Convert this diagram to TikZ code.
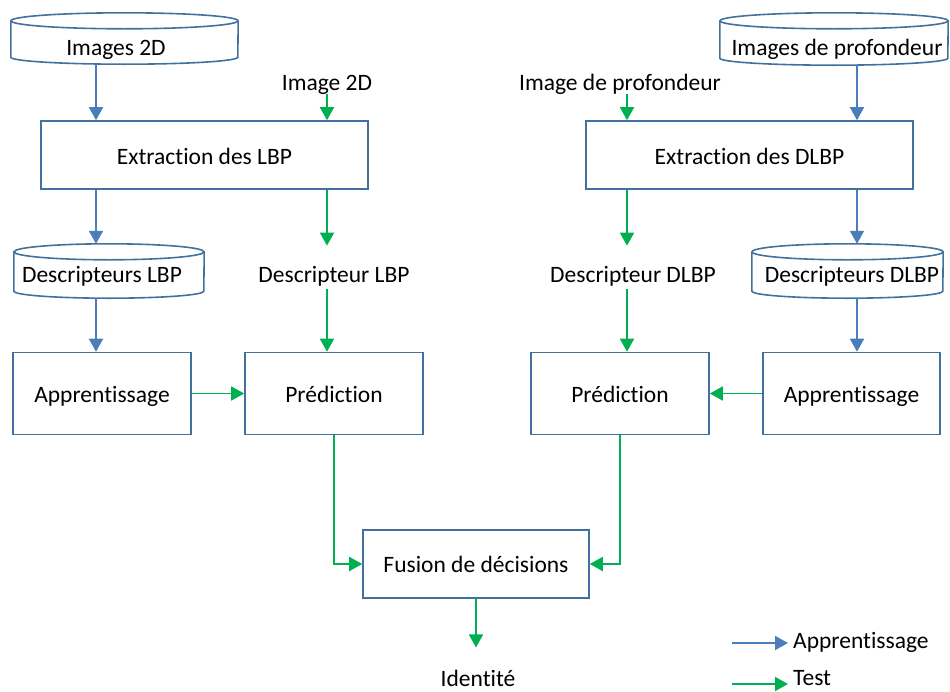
\documentclass[tikz,border=0pt]{standalone}
\usepackage{fontspec}
\setmainfont{Carlito}[Ligatures={NoCommon,NoContextual},RawFeature={-liga;-clig;-calt}]
\usetikzlibrary{arrows.meta}
\definecolor{boxc}{HTML}{41719C}
\definecolor{bluec}{HTML}{4A7EBB}
\definecolor{greenc}{HTML}{00B050}
\newcommand{\nti}{t\kern0pt i}
\newcommand{\dbshape}[1]{%
  \draw[boxline] ([yshift=-8pt]#1.north west) -- ([yshift=7pt]#1.south west)
    arc[start angle=180,end angle=360,x radius={0.5*(\pgfkeysvalueof{/pgf/minimum width})},y radius=7pt]
    -- ([yshift=-8pt]#1.north east);
  \draw[boxline] ([yshift=-8pt]#1.north) ellipse[x radius={0.5*(\pgfkeysvalueof{/pgf/minimum width})},y radius=8pt];
}
\begin{document}
\begin{tikzpicture}[x=1pt,y=-1pt,
  every node/.style={font=\fontsize{23.5}{28}\selectfont},
  boxline/.style={draw=boxc,line width=1.6pt},
  procbox/.style={draw=boxc,line width=1.6pt,rectangle,inner sep=0pt},
  dbnode/.style={rectangle,inner sep=0pt},
  txt/.style={inner sep=0pt,anchor=base},
  barrow/.style={draw=bluec,line width=1.8pt,-{Triangle[length=13pt,width=14pt]}},
  garrow/.style={draw=greenc,line width=1.8pt,-{Triangle[length=13pt,width=14pt]}}]
\useasboundingbox (0,0) rectangle (950,691);

% column coordinates
\coordinate (cA) at (96,0);
\coordinate (cB) at (327,0);
\coordinate (cC) at (627,0);
\coordinate (cD) at (857,0);

% left side
\node[dbnode,minimum width=227pt,minimum height=51pt] (db1) at (124.5,38.5) {};
\begin{scope}[/pgf/minimum width=227pt]\dbshape{db1}\end{scope}
\node[txt] (db1t) at (116,55) {Images 2D};

\node[txt] (img2d) at (327,90) {Image 2D};

\node[procbox,minimum width=327pt,minimum height=68pt] (ex1) at (204.5,155) {};
\node[txt] (ex1t) at (204.5,164) {Extrac\nti on des LBP};

\node[dbnode,minimum width=190pt,minimum height=54pt] (db2) at (109,271) {};
\begin{scope}[/pgf/minimum width=190pt]\dbshape{db2}\end{scope}
\node[txt] (db2t) at (102,282) {Descripteurs LBP};

\node[txt] (desc1) at (334,282) {Descripteur LBP};

\node[procbox,minimum width=178pt,minimum height=82pt] (ap1) at (102,393.5) {};
\node[txt] (ap1t) at (102,402) {Appren\nti ssage};
\node[procbox,minimum width=178pt,minimum height=82pt] (pr1) at (334,393.5) {};
\node[txt] (pr1t) at (334,402) {Prédic\nti on};

% right side
\node[dbnode,minimum width=228pt,minimum height=52pt] (db3) at (834,39) {};
\begin{scope}[/pgf/minimum width=228pt]\dbshape{db3}\end{scope}
\node[txt] (db3t) at (837,55) {Images de profondeur};

\node[txt] (imgp) at (620,90) {Image de profondeur};

\node[procbox,minimum width=327pt,minimum height=68pt] (ex2) at (749.5,155) {};
\node[txt] (ex2t) at (749.5,164) {Extrac\nti on des DLBP};

\node[dbnode,minimum width=191pt,minimum height=54pt] (db4) at (847.5,271) {};
\begin{scope}[/pgf/minimum width=191pt]\dbshape{db4}\end{scope}
\node[txt] (db4t) at (852,282) {Descripteurs DLBP};

\node[txt] (desc2) at (633,282) {Descripteur DLBP};

\node[procbox,minimum width=178pt,minimum height=82pt] (pr2) at (620,393.5) {};
\node[txt] (pr2t) at (620,402) {Prédic\nti on};
\node[procbox,minimum width=177pt,minimum height=82pt] (ap2) at (851.5,393.5) {};
\node[txt] (ap2t) at (851.5,402) {Appren\nti ssage};

% fusion
\node[procbox,minimum width=226pt,minimum height=68pt] (fus) at (476,564) {};
\node[txt] (fust) at (476,572) {Fusion de décisions};
\node[txt] (ident) at (478,686) {Iden\nti té};

% arrows left
\draw[barrow] (db1.south -| cA) -- (ex1.north -| cA);
\draw[garrow] (img2d.south -| cB) -- (ex1.north -| cB);
\draw[barrow] (ex1.south -| cA) -- (db2.north -| cA);
\draw[garrow,shorten >=20pt] (ex1.south -| cB) -- (desc1.north -| cB);
\draw[barrow] (db2.south -| cA) -- (ap1.north -| cA);
\draw[garrow,shorten <=3pt] (desc1.south -| cB) -- (pr1.north -| cB);
\draw[garrow] (ap1.east) -- (pr1.west);

% arrows right
\draw[barrow] (db3.south -| cD) -- (ex2.north -| cD);
\draw[garrow] (imgp.south -| cC) -- (ex2.north -| cC);
\draw[barrow] (ex2.south -| cD) -- (db4.north -| cD);
\draw[garrow,shorten >=20pt] (ex2.south -| cC) -- (desc2.north -| cC);
\draw[barrow] (db4.south -| cD) -- (ap2.north -| cD);
\draw[garrow,shorten <=3pt] (desc2.south -| cC) -- (pr2.north -| cC);
\draw[garrow] (ap2.west) -- (pr2.east);

% to fusion
\draw[garrow] (pr1.south) |- (fus.west);
\draw[garrow] (pr2.south) |- (fus.east);
\draw[garrow,shorten >=22pt] (fus.south) -- (fus.south |- ident.north);

% legend
\coordinate (lb1) at (732,643);
\coordinate (lb2) at (732,684);
\node[inner sep=0pt,anchor=west] (legA) at (793,642) {Appren\nti ssage};
\node[inner sep=0pt,anchor=west] (legT) at (793,678) {Test};
\draw[barrow,shorten >=5pt] (lb1) -- (lb1 -| legA.west);
\draw[garrow,shorten >=5pt] (lb2) -- (lb2 -| legT.west);
\end{tikzpicture}
\end{document}
